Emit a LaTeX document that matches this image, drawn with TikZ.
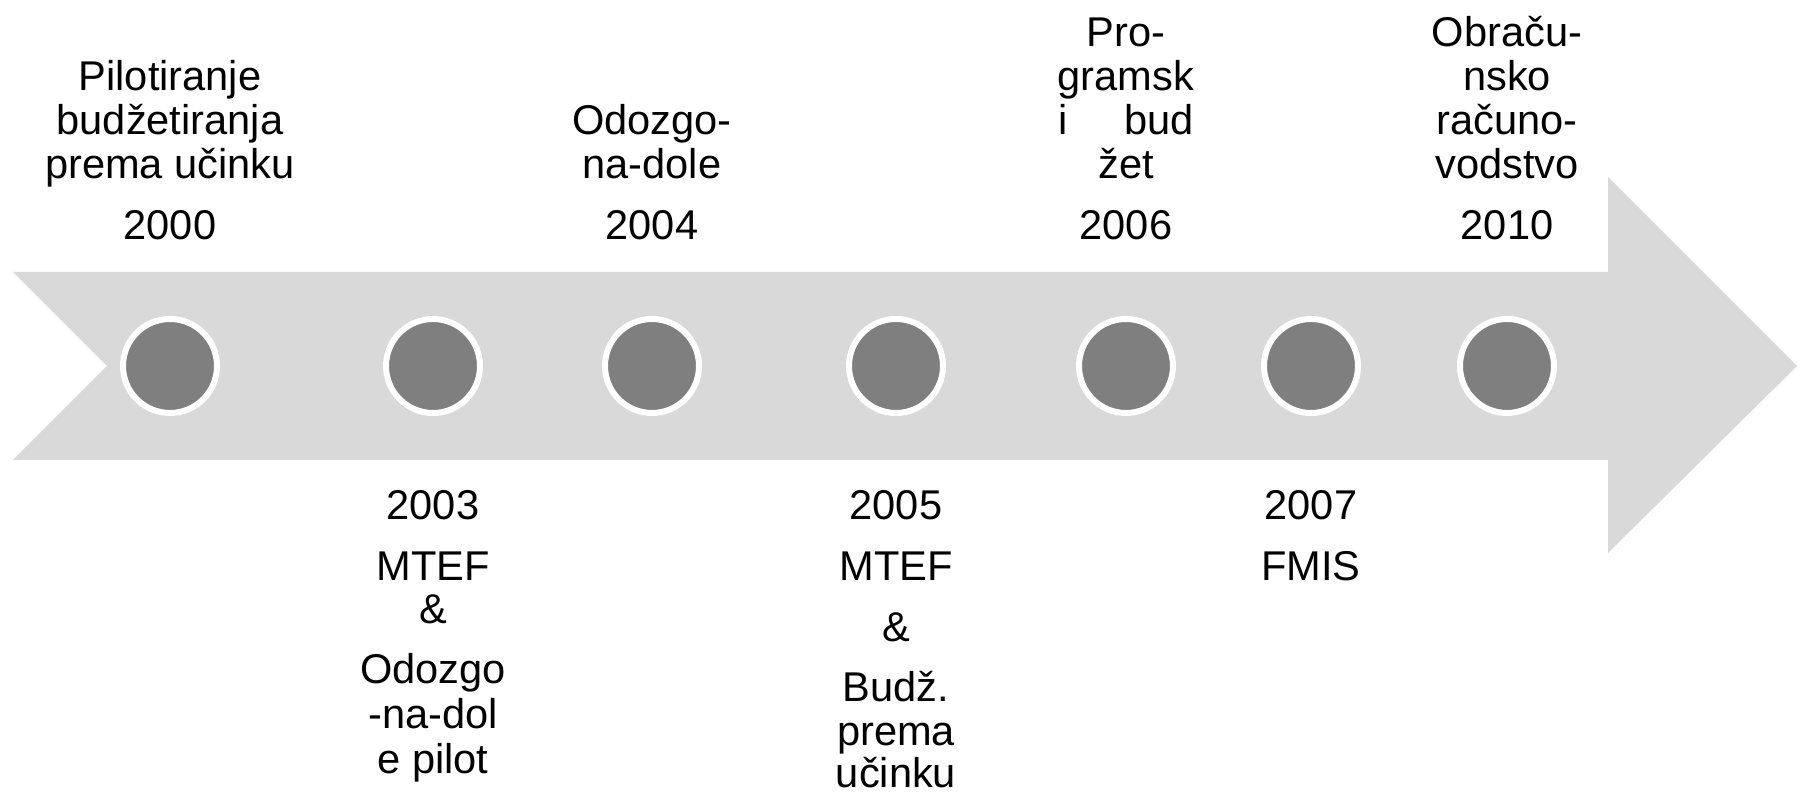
\documentclass[tikz,border=0pt]{standalone}
\usepackage{fontspec}
\setmainfont{Liberation Sans}
\definecolor{arrowgray}{HTML}{D9D9D9}
\definecolor{dotgray}{HTML}{7F7F7F}

\begin{document}
\begin{tikzpicture}[x=0.5pt,y=-0.5pt,
    lbl/.style={anchor=base, inner sep=0pt, font=\fontsize{20.8}{22}\selectfont},
    dot/.style={circle, fill=dotgray, draw=white, line width=3pt,
                minimum size=47pt, inner sep=0pt}]

\useasboundingbox (0,0) rectangle (1806,795);

% STEP 1: The big arrow (notched tail, head on the right).
\coordinate (TL) at (13,272);
\coordinate (N)  at (107,366);
\coordinate (BL) at (13,460);
\coordinate (H1) at (1608,272);
\coordinate (H2) at (1608,177);
\coordinate (T)  at (1797,366);
\coordinate (H3) at (1608,553);
\coordinate (H4) at (1608,460);
\fill[arrowgray] (TL) -- (H1) -- (H2) -- (T) -- (H3) -- (H4) -- (BL) -- (N) -- cycle;

% STEP 2: The milestone dots on the arrow.
\node[dot] (d2000) at (170,366) {};
\node[dot] (d2003) at (433,366) {};
\node[dot] (d2004) at (652,366) {};
\node[dot] (d2005) at (896,366) {};
\node[dot] (d2006) at (1126,366) {};
\node[dot] (d2007) at (1311,366) {};
\node[dot] (d2010) at (1507,366) {};

% STEP 3: Labels above the arrow.
\node[lbl] (t2000a) at (170,91)  {Pilotiranje};
\node[lbl] (t2000b) at (170,135) {budžetiranja};
\node[lbl] (t2000c) at (170,179) {prema učinku};
\node[lbl] (y2000)  at (170,240) {2000};

\node[lbl] (t2004a) at (652,135) {Odozgo-};
\node[lbl] (t2004b) at (652,179) {na-dole};
\node[lbl] (y2004)  at (652,240) {2004};

\node[lbl] (t2006a) at (1126,47)  {Pro-};
\node[lbl] (t2006b) at (1126,91)  {gramsk};
\node[lbl] (t2006c) at (1126,135) {\makebox[68pt]{i\hfill bud}};
\node[lbl] (t2006d) at (1126,179) {žet};
\node[lbl] (y2006)  at (1126,240) {2006};

\node[lbl] (t2010a) at (1507,47)  {Obraču-};
\node[lbl] (t2010b) at (1507,91)  {nsko};
\node[lbl] (t2010c) at (1507,135) {računo-};
\node[lbl] (t2010d) at (1507,179) {vodstvo};
\node[lbl] (y2010)  at (1507,240) {2010};

% STEP 4: Labels below the arrow.
\node[lbl] (y2003)  at (433,520) {2003};
\node[lbl] (t2003a) at (433,581) {MTEF};
\node[lbl] (t2003b) at (433,624) {\&};
\node[lbl] (t2003c) at (433,684) {Odozgo};
\node[lbl] (t2003d) at (433,729) {-na-dol};
\node[lbl] (t2003e) at (433,774) {e pilot};

\node[lbl] (y2005)  at (896,520) {2005};
\node[lbl] (t2005a) at (896,581) {MTEF};
\node[lbl] (t2005b) at (896,642) {\&};
\node[lbl] (t2005c) at (896,702) {Budž.};
\node[lbl] (t2005d) at (896,746) {prema};
\node[lbl] (t2005e) at (896,788) {učinku};

\node[lbl] (y2007)  at (1311,520) {2007};
\node[lbl] (t2007a) at (1311,581) {FMIS};

\end{tikzpicture}
\end{document}
